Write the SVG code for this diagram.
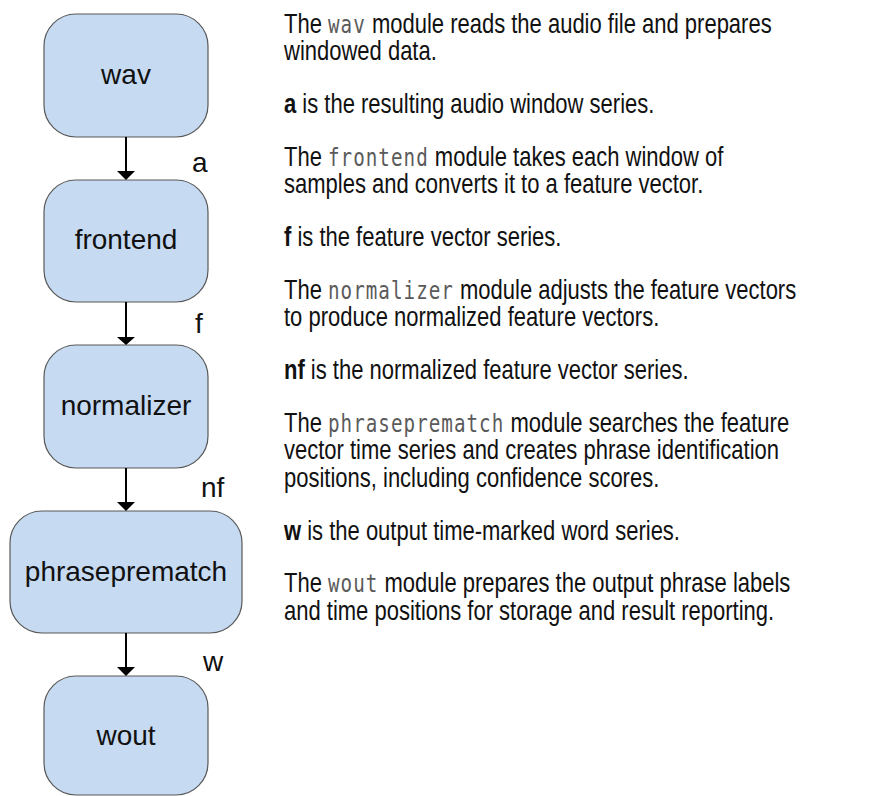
<svg xmlns="http://www.w3.org/2000/svg" width="880" height="796" viewBox="0 0 880 796">
  <style>
    .box { fill: #c6daf1; stroke: #595959; stroke-width: 1.2; }
    .lbl { font-family: "Liberation Sans", Arial, sans-serif; font-size: 28px; fill: #111; text-anchor: middle; }
    .edge-lbl { font-family: "Liberation Sans", Arial, sans-serif; font-size: 28px; fill: #111; }
    .edge { stroke: #000; stroke-width: 2; fill: none; }
    .head { fill: #000; }
    .desc { font-family: "Liberation Sans", Arial, sans-serif; font-size: 27.5px; fill: #111; }
    .code { font-family: "DejaVu Sans Mono", "Liberation Mono", monospace; font-size: 24px; letter-spacing: 1.3px; fill: #5a5a5a; }
    .b { font-weight: bold; }
  </style>

  <!-- pipeline nodes -->
  <g id="node-wav">
    <rect class="box" x="44" y="14" width="164" height="123" rx="32" ry="32"/>
    <text class="lbl" x="126" y="84">wav</text>
  </g>
  <g id="node-frontend">
    <rect class="box" x="44" y="180" width="164" height="122" rx="32" ry="32"/>
    <text class="lbl" x="126" y="249">frontend</text>
  </g>
  <g id="node-normalizer">
    <rect class="box" x="44" y="345" width="164" height="123" rx="32" ry="32"/>
    <text class="lbl" x="126" y="415">normalizer</text>
  </g>
  <g id="node-phraseprematch">
    <rect class="box" x="10" y="511" width="232" height="122" rx="32" ry="32"/>
    <text class="lbl" x="126" y="581">phraseprematch</text>
  </g>
  <g id="node-wout">
    <rect class="box" x="44" y="676" width="164" height="119" rx="32" ry="32"/>
    <text class="lbl" x="126" y="745">wout</text>
  </g>

  <!-- connectors with their series labels -->
  <g id="connectors">
    <line class="edge" x1="126" y1="137" x2="126" y2="172"/>
    <polygon class="head" points="117,171 135,171 126,180"/>
    <text class="edge-lbl" x="192" y="172">a</text>

    <line class="edge" x1="126" y1="302" x2="126" y2="338"/>
    <polygon class="head" points="117,337 135,337 126,345"/>
    <text class="edge-lbl" x="195" y="333">f</text>

    <line class="edge" x1="126" y1="468" x2="126" y2="503"/>
    <polygon class="head" points="117,502 135,502 126,511"/>
    <text class="edge-lbl" x="201" y="497">nf</text>

    <line class="edge" x1="126" y1="633" x2="126" y2="668"/>
    <polygon class="head" points="117,667 135,667 126,676"/>
    <text class="edge-lbl" x="203" y="671">w</text>
  </g>

  <!-- module descriptions -->
  <g id="descriptions" transform="translate(284,0) scale(0.8,1)">
    <text class="desc" x="0" y="33">The <tspan class="code">wav</tspan> module reads the audio file and prepares</text>
    <text class="desc" x="0" y="60.5">windowed data.</text>

    <text class="desc" x="0" y="113"><tspan class="b">a</tspan> is the resulting audio window series.</text>

    <text class="desc" x="0" y="166">The <tspan class="code">frontend</tspan> module takes each window of</text>
    <text class="desc" x="0" y="193.5">samples and converts it to a feature vector.</text>

    <text class="desc" x="0" y="246"><tspan class="b">f</tspan> is the feature vector series.</text>

    <text class="desc" x="0" y="299">The <tspan class="code">normalizer</tspan> module adjusts the feature vectors</text>
    <text class="desc" x="0" y="326.5">to produce normalized feature vectors.</text>

    <text class="desc" x="0" y="379"><tspan class="b">nf</tspan> is the normalized feature vector series.</text>

    <text class="desc" x="0" y="432">The <tspan class="code">phraseprematch</tspan> module searches the feature</text>
    <text class="desc" x="0" y="459.5">vector time series and creates phrase identification</text>
    <text class="desc" x="0" y="487">positions, including confidence scores.</text>

    <text class="desc" x="0" y="540"><tspan class="b">w</tspan> is the output time-marked word series.</text>

    <text class="desc" x="0" y="592.5">The <tspan class="code">wout</tspan> module prepares the output phrase labels</text>
    <text class="desc" x="0" y="620">and time positions for storage and result reporting.</text>
  </g>
</svg>
